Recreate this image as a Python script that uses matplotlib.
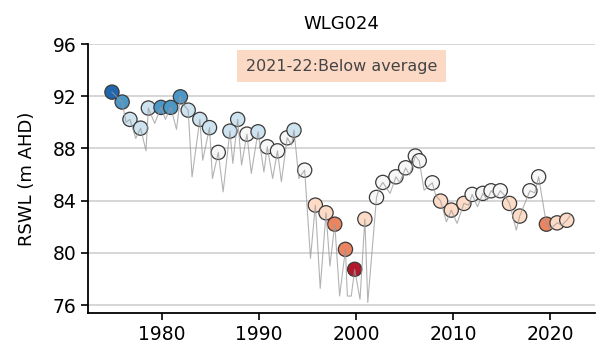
import matplotlib
matplotlib.use("Agg")
import matplotlib.pyplot as plt

# annual marker points (year, RSWL) and their class
marker_years = [1974.85, 1975.9, 1976.7, 1977.8, 1978.6, 1979.9, 1980.9, 1981.9,
                1982.7, 1983.9, 1984.9, 1985.8, 1987.0, 1987.8, 1988.75, 1989.9,
                1990.85, 1991.9, 1992.9, 1993.6, 1994.7, 1995.8, 1996.9, 1997.8,
                1998.9, 1999.85, 2000.9, 2002.1, 2002.75, 2004.1, 2005.1, 2006.1,
                2006.5, 2007.85, 2008.7, 2009.8, 2011.1, 2011.95, 2013.05, 2013.9,
                2014.85, 2015.8, 2016.85, 2017.9, 2018.8, 2019.6, 2020.7, 2021.7]
marker_values = [92.32, 91.56, 90.23, 89.56, 91.1, 91.15, 91.15, 91.96,
                 90.94, 90.23, 89.6, 87.7, 89.33, 90.23, 89.1, 89.28,
                 88.13, 87.82, 88.82, 89.4, 86.34, 83.66, 83.07, 82.2,
                 80.27, 78.74, 82.59, 84.25, 85.4, 85.83, 86.52, 87.42,
                 87.06, 85.37, 83.97, 83.28, 83.79, 84.48, 84.56, 84.76,
                 84.76, 83.79, 82.82, 84.76, 85.83, 82.2, 82.3, 82.5]
# 0 = lowest ... 6 = highest
marker_class = [6, 5, 4, 4, 4, 5, 5, 5,
                4, 4, 4, 3, 4, 4, 3, 4,
                3, 3, 3, 4, 3, 2, 2, 1,
                1, 0, 2, 3, 3, 3, 3, 3,
                3, 3, 2, 2, 2, 3, 3, 3,
                3, 2, 2, 3, 3, 1, 2, 2]
class_colors = ["#b2182b", "#ea8461", "#fddbc7", "#f7f7f7",
                "#cde3f0", "#4d97c7", "#2166ac"]

# continuous water level trace
line_years = [1974.85, 1975.9, 1976.3, 1976.7, 1977.3, 1977.8, 1978.35, 1978.6,
              1979.25, 1979.9, 1980.35, 1980.9, 1981.5, 1981.9, 1982.3, 1982.7,
              1983.1, 1983.9, 1984.2, 1984.9, 1985.2, 1985.8, 1986.3, 1987.0,
              1987.3, 1987.8, 1988.2, 1988.75, 1989.2, 1989.9, 1990.5, 1990.85,
              1991.4, 1991.9, 1992.3, 1992.9, 1993.35, 1993.6, 1994.1, 1994.7,
              1995.3, 1995.8, 1996.3, 1996.9, 1997.3, 1997.8, 1998.3, 1998.9,
              1999.1, 1999.5, 1999.85, 2000.4, 2000.9, 2001.2, 2002.1, 2002.4,
              2002.75, 2003.5, 2004.1, 2004.5, 2005.1, 2005.5, 2006.1, 2006.5,
              2007.0, 2007.85, 2008.2, 2008.7, 2009.3, 2009.8, 2010.4, 2011.1,
              2011.6, 2011.95, 2012.5, 2013.05, 2013.5, 2013.9, 2014.5, 2014.85,
              2015.3, 2015.8, 2016.5, 2016.85, 2017.9, 2018.4, 2018.8, 2019.6,
              2020.1, 2020.7, 2021.2, 2021.7, 2022.1]
line_values = [92.32, 91.56, 90.0, 90.23, 88.77, 89.56, 87.82, 91.1,
               89.92, 91.15, 90.23, 91.15, 89.46, 91.96, 91.3, 90.94,
               85.83, 90.23, 87.1, 89.6, 85.7, 87.7, 84.68, 89.33,
               86.86, 90.23, 86.73, 89.1, 86.09, 89.28, 86.2, 88.13,
               85.7, 87.82, 85.45, 88.82, 88.26, 89.4, 85.7, 86.34,
               79.58, 83.66, 77.28, 83.07, 78.99, 82.2, 76.69, 80.27,
               76.69, 76.69, 78.74, 76.44, 82.59, 76.2, 84.25, 85.0,
               85.4, 84.56, 85.83, 85.4, 86.52, 85.96, 87.42, 87.06,
               84.8, 85.37, 84.4, 83.97, 82.38, 83.28, 82.26, 83.79,
               83.66, 84.48, 83.53, 84.56, 84.05, 84.76, 84.3, 84.76,
               84.4, 83.79, 81.74, 82.82, 84.76, 84.6, 85.83, 82.2,
               81.87, 82.3, 82.13, 82.5, 82.9]

y_ticks = [76, 80, 84, 88, 92, 96]
x_ticks = [1980, 1990, 2000, 2010, 2020]


def main():
    fig = plt.figure(figsize=(6.04, 3.5), dpi=100)
    ax = fig.add_axes([0.146, 0.106, 0.839, 0.768])

    ax.scatter(marker_years, marker_values, s=105,
               c=[class_colors[k] for k in marker_class],
               edgecolors="#3a3a3a", linewidths=0.9, zorder=3)
    ax.plot(line_years, line_values, color="#999999", lw=0.8, alpha=0.75, zorder=4)

    ax.set_xlim(1972.4, 2024.6)
    ax.set_ylim(75.4, 96)
    ax.set_yticks(y_ticks)
    ax.set_xticks(x_ticks)
    ax.tick_params(labelsize=13.5, length=5, width=1.2)
    ax.grid(axis="y", color="#d3d3d3", lw=1.3, zorder=0)
    ax.set_axisbelow(True)
    for side in ("top", "right"):
        ax.spines[side].set_visible(False)
    for side in ("left", "bottom"):
        ax.spines[side].set_linewidth(1.3)

    ax.set_ylabel("RSWL (m AHD)", fontsize=13, labelpad=12)
    ax.set_title("WLG024", fontsize=13, pad=11)

    ax.text(0.5, 0.918, "2021-22:Below average", transform=ax.transAxes,
            ha="center", va="center", fontsize=11.5, color="#444444",
            bbox=dict(boxstyle="square,pad=0.55", fc="#fcd9c5", ec="none"))

    fig.savefig("out.png", dpi=100)
    return 0


if __name__ == "__main__":
    exit(main())
